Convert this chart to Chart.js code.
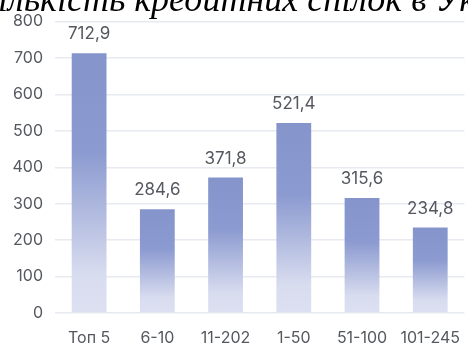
<!DOCTYPE html>
<html lang="uk">
<head>
  <meta charset="UTF-8">
  <title>Кредитні спілки</title>
  <script src="https://cdn.jsdelivr.net/npm/chart.js"></script>
  <style>
    html, body { margin: 0; padding: 0; background: #fff; }
    #wrap { width: 468px; height: 347px; position: relative; overflow: hidden; }
  </style>
</head>
<body>
<div id="wrap"><canvas id="chart" width="468" height="347"></canvas></div>
<script>
  const titleText = 'Кількість кредитних спілок в Україні';
  const categories = ['Топ 5', '6-10', '11-202', '1-50', '51-100', '101-245'];
  const values = [712.9, 284.6, 371.8, 521.4, 315.6, 234.8];
  const yTicks = [0, 100, 200, 300, 400, 500, 600, 700, 800];

  const FONT = 'Inter, "DejaVu Sans", sans-serif';

  function barGradient(ctx) {
    const chart = ctx.chart;
    const y = chart.scales.y;
    if (!chart.chartArea || !y || ctx.dataIndex === undefined) return '#8796cc';
    const top = y.getPixelForValue(values[ctx.dataIndex]);
    const bottom = y.getPixelForValue(0);
    if (!isFinite(top) || !isFinite(bottom) || top === bottom) return '#8796cc';
    const g = chart.ctx.createLinearGradient(0, top, 0, bottom);
    g.addColorStop(0, '#8595cb');
    g.addColorStop(0.38, '#8b9ad0');
    g.addColorStop(0.85, '#d8dcef');
    g.addColorStop(1, '#dde0f1');
    return g;
  }

  const valueLabels = {
    id: 'valueLabels',
    afterDatasetsDraw(chart) {
      const c = chart.ctx;
      const meta = chart.getDatasetMeta(0);
      c.save();
      c.font = '17px ' + FONT;
      c.fillStyle = '#55585f';
      c.textAlign = 'center';
      c.textBaseline = 'middle';
      meta.data.forEach((bar, i) => {
        c.fillText(values[i].toFixed(1).replace('.', ','), bar.x, bar.y - 19);
      });
      c.restore();
    }
  };

  const cutTitle = {
    id: 'cutTitle',
    afterDraw(chart) {
      const c = chart.ctx;
      c.save();
      c.font = 'italic 36px "Liberation Serif", serif';
      c.fillStyle = '#000';
      c.textBaseline = 'alphabetic';
      const off = c.measureText('Кі').width;
      c.fillText(titleText, -off + 8, 11);
      c.restore();
    }
  };

  new Chart(document.getElementById('chart'), {
    type: 'bar',
    data: {
      labels: categories,
      datasets: [{
        data: values,
        backgroundColor: barGradient,
        borderWidth: 0,
        categoryPercentage: 1,
        barPercentage: 0.51
      }]
    },
    options: {
      responsive: false,
      animation: false,
      layout: { padding: { top: 21, right: 0, left: 0, bottom: 0 } },
      plugins: { legend: { display: false }, tooltip: { enabled: false } },
      scales: {
        x: {
          grid: { display: false },
          border: { display: false },
          ticks: { color: '#55585f', font: { family: FONT, size: 16 }, padding: 8 },
          afterFit(s) { s.height = 34; }
        },
        y: {
          min: 0, max: 800,
          afterBuildTicks(s) { s.ticks = yTicks.map(v => ({ value: v })); },
          grid: { color: '#e7eaf0', lineWidth: 1.5, drawTicks: false },
          border: { display: false },
          ticks: { color: '#55585f', font: { family: FONT, size: 16 }, padding: 12 },
          afterFit(s) { s.width = 55; }
        }
      }
    },
    plugins: [valueLabels, cutTitle]
  });
  // re-render once scales exist so the per-bar gradients resolve
  Chart.getChart('chart').update();
</script>
</body>
</html>
